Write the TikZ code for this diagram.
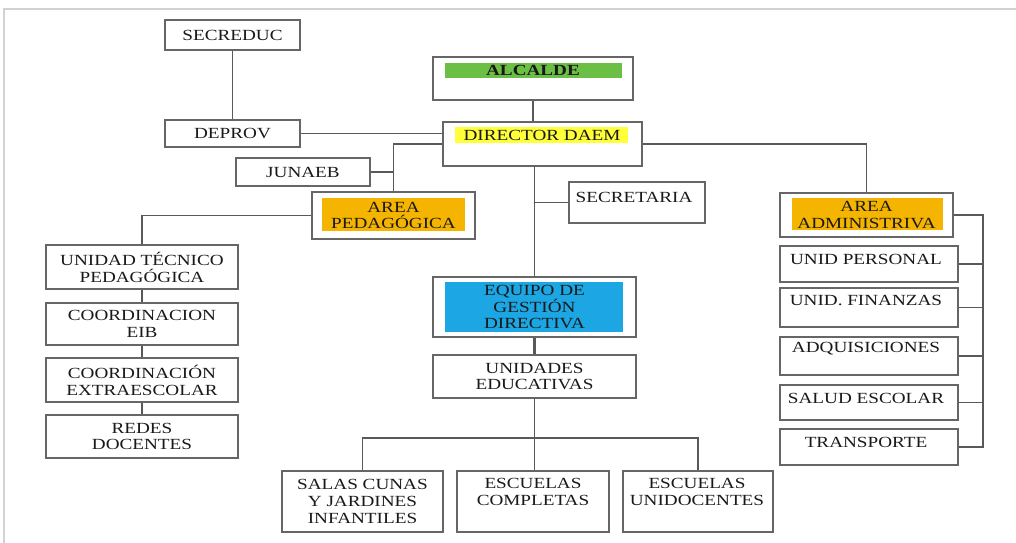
\documentclass[tikz,border=0pt]{standalone}
\usepackage{fontspec}
\setmainfont{Liberation Serif}[FakeStretch=1.24]
\usetikzlibrary{positioning}

\definecolor{alcGreen}{HTML}{6CBF45}
\definecolor{dirYellow}{HTML}{FFFF3A}
\definecolor{areaOrange}{HTML}{F5B400}
\definecolor{equipoBlue}{HTML}{1CA6E3}
\newcommand{\lblfont}{\fontsize{11}{12}\selectfont}

\tikzset{
  box/.style={draw=gray!80!black, line width=0.9pt, font=\lblfont, text=black!90,
    align=center, inner sep=1pt},
  wh/.style 2 args={minimum width=#1cm, minimum height=#2cm},
  lbl/.style={font=\lblfont, text=black!90, align=center, inner sep=1pt},
  link/.style={draw=black!65, line width=0.8pt},
}

\begin{document}
\begin{tikzpicture}[x=0.025cm, y=-0.025cm]
  \useasboundingbox (0,0) rectangle (1016,543);
  \draw[gray!35, line width=0.8pt] (4,543) -- (4,9) -- (1016,9);

  % Coloured strips
  \fill[alcGreen] (445,63) rectangle (622,78);
  \fill[dirYellow] (455,127) rectangle (628,143);
  \fill[areaOrange] (322,198) rectangle (465,231);
  \fill[areaOrange] (792,198) rectangle (943,230);
  \fill[equipoBlue] (445,282) rectangle (623,332);

  % Top
  \node[box, wh={3.375}{0.75}] (secreduc) at (232.5,35) {SECREDUC};
  \node[box, wh={3.375}{0.675}] (deprov) at (232.5,133.5) {DEPROV};
  \node[box, wh={5.0}{1.075}] (alcalde) at (533,78.5) {};
  \node[lbl] (alcaldeT) at (533,70) {\bfseries ALCALDE};
  \node[box, wh={4.975}{1.1}] (director) at (542.5,144) {};
  \node[lbl] (directorT) at (542,135) {DIRECTOR DAEM};
  \node[box, wh={3.35}{0.7}] (junaeb) at (303,172) {JUNAEB};
  \node[box, wh={4.075}{1.175}] (pedagogica) at (393.5,215.5) {AREA\\PEDAGÓGICA};
  \node[box, wh={3.4}{1.025}] (secretaria) at (637,202.5) {};
  \node[lbl] (secretariaT) at (634,197) {SECRETARIA};
  \node[box, wh={4.325}{1.1}] (administriva) at (866.5,215) {AREA\\ADMINISTRIVA};

  % Left column
  \node[box, wh={4.8}{1.1}] (utp) at (142,267) {UNIDAD TÉCNICO\\PEDAGÓGICA};
  \node[box, wh={4.8}{1.05}] (eib) at (142,324) {COORDINACION\\EIB};
  \node[box, wh={4.8}{1.1}] (extra) at (142,380) {COORDINACIÓN\\EXTRAESCOLAR};
  \node[box, wh={4.8}{1.075}] (redes) at (142,436.5) {REDES\\DOCENTES};

  % Middle
  \node[box, wh={5.075}{1.5}] (equipo) at (534.5,307) {EQUIPO DE\\GESTIÓN\\DIRECTIVA};
  \node[box, wh={5.075}{1.075}] (unidades) at (534.5,376.5) {UNIDADES\\EDUCATIVAS};
  \node[box, wh={4.025}{1.525}] (salas) at (362.5,501.5) {SALAS CUNAS\\Y JARDINES\\INFANTILES};
  \node[box, wh={3.8}{1.525}] (completas) at (533,501.5) {};
  \node[lbl] (completasT) at (533,492) {ESCUELAS\\COMPLETAS};
  \node[box, wh={3.75}{1.525}] (unidocentes) at (698,501.5) {};
  \node[lbl] (unidocentesT) at (697,492) {ESCUELAS\\UNIDOCENTES};

  % Right column
  \node[box, wh={4.45}{0.9}] (personal) at (869,264) {};
  \node[lbl] (personalT) at (866,259) {UNID PERSONAL};
  \node[box, wh={4.45}{0.975}] (finanzas) at (869,307.5) {};
  \node[lbl] (finanzasT) at (866,300) {UNID. FINANZAS};
  \node[box, wh={4.45}{0.95}] (adquisiciones) at (869,356) {};
  \node[lbl] (adquisicionesT) at (866,349) {ADQUISICIONES};
  \node[box, wh={4.45}{0.875}] (salud) at (869,402.5) {};
  \node[lbl] (saludT) at (866,398) {SALUD ESCOLAR};
  \node[box, wh={4.45}{0.9}] (transporte) at (869,447) {};
  \node[lbl] (transporteT) at (866,442) {TRANSPORTE};

  % Connectors
  \draw[link] (secreduc) -- (deprov);
  \draw[link] (deprov.east) -- (deprov.east -| director.west);
  \draw[link] (alcalde.south) -- (alcalde.south |- director.north);
  \draw[link] (director.west) -| (pedagogica.north);
  \draw[link] (junaeb.east) -- (junaeb.east -| pedagogica.north);
  \draw[link] (pedagogica.west) -| (utp.north);
  \draw[link] (utp) -- (eib);
  \draw[link] (eib) -- (extra);
  \draw[link] (extra) -- (redes);
  \draw[link] (director.east) -| (administriva.north);
  \draw[link] (equipo.north |- director.south) -- (equipo.north);
  \draw[link] (secretaria.west) -- (secretaria.west -| equipo.north);
  \draw[link, line width=2pt] (equipo) -- (unidades);
  \draw[link] (unidades.south) -- (unidades.south |- completas.north);
  \coordinate (uebus) at (534.5,438);
  \draw[link] (salas.north) |- (uebus) -| (unidocentes.north);
  \coordinate (admbus) at (983,215);
  \draw[link] (administriva.east) -| (admbus |- transporte.east) -- (transporte.east);
  \foreach \n in {personal,finanzas,adquisiciones,salud}
    \draw[link] (\n.east) -- (\n.east -| admbus);
\end{tikzpicture}
\end{document}
